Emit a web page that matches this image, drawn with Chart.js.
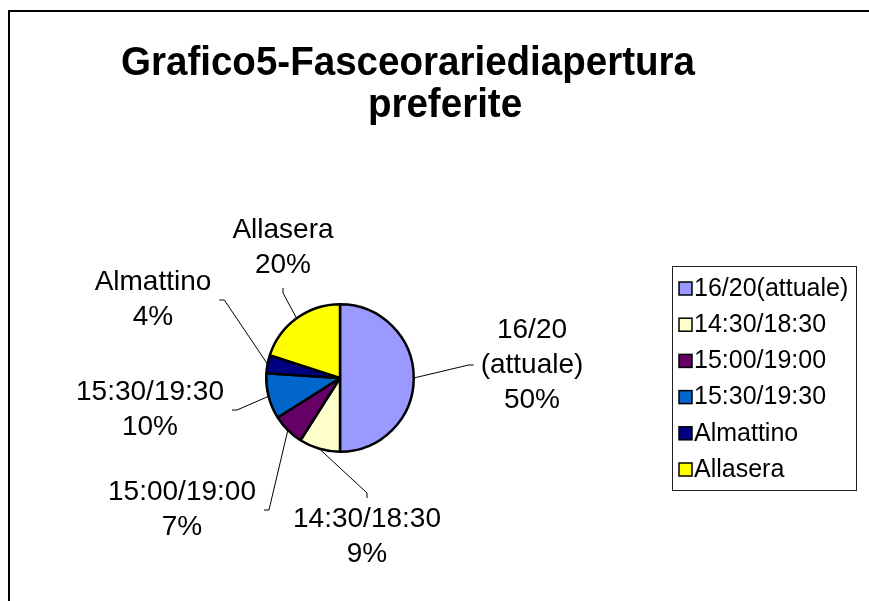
<!DOCTYPE html>
<html>
<head>
<meta charset="utf-8">
<script src="https://cdn.jsdelivr.net/npm/chart.js@4.4.0/dist/chart.umd.min.js"></script>
<style>
  html, body { margin: 0; padding: 0; background: #fff; }
  canvas { display: block; }
</style>
</head>
<body>
<canvas id="grafico" width="869" height="601"></canvas>
<script>
// --- dati ---
const categorie = ["16/20(attuale)", "14:30/18:30", "15:00/19:00", "15:30/19:30", "Almattino", "Allasera"];
const valori = [50, 9, 7, 10, 4, 20];
const colori = ["#9999FF", "#FFFFCC", "#660066", "#0066CC", "#000080", "#FFFF00"];
const titolo = ["Grafico5-Fasceorariediapertura", "preferite"];

// posizione etichette rispetto al centro della torta (dx, dy del blocco di testo)
const offsetEtichette = [[192, -13], [27, 159], [-158, 132], [-190, 32], [-187, -78], [-57, -130]];

const FONT = '"Liberation Sans", Arial, sans-serif';

function righeEtichetta(nome) {
  // "16/20(attuale)" va a capo prima della parentesi
  const i = nome.indexOf("(");
  return i > 0 ? [nome.slice(0, i), nome.slice(i)] : [nome];
}

function testoStretto(ctx, txt, x, y, sx) {
  ctx.save();
  ctx.translate(x, y);
  ctx.scale(sx, 1);
  ctx.fillText(txt, 0, 0);
  ctx.restore();
}

// cornice + titolo
const cornice = {
  id: "cornice",
  beforeDraw(chart) {
    const ctx = chart.ctx;
    ctx.save();
    ctx.fillStyle = "#fff";
    ctx.fillRect(0, 0, chart.width, chart.height);
    ctx.strokeStyle = "#000";
    ctx.lineWidth = 2;
    ctx.beginPath();
    ctx.moveTo(9, chart.height);
    ctx.lineTo(9, 11);
    ctx.lineTo(chart.width, 11);
    ctx.stroke();

    ctx.fillStyle = "#000";
    ctx.font = "bold 41px " + FONT;
    ctx.textAlign = "center";
    ctx.textBaseline = "alphabetic";
    testoStretto(ctx, titolo[0], 408, 75, 0.94);
    testoStretto(ctx, titolo[1], 445, 117, 0.94);
    ctx.restore();
  }
};

// etichette con linee guida
const etichette = {
  id: "etichette",
  afterDatasetsDraw(chart) {
    const ctx = chart.ctx;
    const meta = chart.getDatasetMeta(0);
    const totale = valori.reduce((a, b) => a + b, 0);
    const lineH = 35;
    ctx.save();
    ctx.font = "28px " + FONT;
    ctx.fillStyle = "#000";
    ctx.textAlign = "center";
    ctx.textBaseline = "middle";

    meta.data.forEach((arc, i) => {
      const p = arc.getProps(["x", "y", "startAngle", "endAngle", "outerRadius"], true);
      const mid = (p.startAngle + p.endAngle) / 2;
      const ax = p.x + Math.cos(mid) * p.outerRadius;
      const ay = p.y + Math.sin(mid) * p.outerRadius;

      const righe = righeEtichetta(categorie[i]).concat([Math.round(valori[i] / totale * 100) + "%"]);
      const w = Math.max(...righe.map(r => ctx.measureText(r).width));
      const h = righe.length * lineH;
      const cx = p.x + offsetEtichette[i][0];
      const cy = p.y + offsetEtichette[i][1];
      const left = cx - w / 2, right = cx + w / 2, top = cy - h / 2, bottom = cy + h / 2;

      // punto finale + piccolo gomito verso il testo
      let ex, ey, gx, gy;
      if (ax < left || ax > right) {
        ex = ax < left ? left - 7 : right + 8;
        ey = cy;
        gx = ax < left ? ex - 5 : ex + 5;
        gy = ey;
      } else {
        ex = cx;
        ey = ay < top ? top - 4 : bottom + 5;
        gx = ex;
        gy = ay < top ? ey - 5 : ey + 5;
      }
      ctx.strokeStyle = "#000";
      ctx.lineWidth = 1;
      ctx.beginPath();
      ctx.moveTo(ax, ay);
      ctx.lineTo(gx, gy);
      ctx.lineTo(ex, ey);
      ctx.stroke();

      righe.forEach((r, k) => {
        ctx.fillText(r, cx, top + lineH / 2 + k * lineH);
      });
    });
    ctx.restore();
  }
};

// legenda con riquadro
const legenda = {
  id: "legenda",
  afterDraw(chart) {
    const ctx = chart.ctx;
    const x0 = 672, y0 = 266, w = 184, h = 224, passo = 36.2;
    ctx.save();
    ctx.strokeStyle = "#222";
    ctx.lineWidth = 1;
    ctx.strokeRect(x0 + 0.5, y0 + 0.5, w, h);
    ctx.font = "25px " + FONT;
    ctx.textAlign = "left";
    ctx.textBaseline = "middle";
    categorie.forEach((nome, i) => {
      const y = y0 + 22 + i * passo;
      ctx.fillStyle = colori[i];
      ctx.fillRect(679, y - 6, 13, 13);
      ctx.strokeStyle = "#000";
      ctx.lineWidth = 1.5;
      ctx.strokeRect(679, y - 6, 13, 13);
      ctx.fillStyle = "#000";
      ctx.fillText(nome, 694, y + 1);
    });
    ctx.restore();
  }
};

new Chart(document.getElementById("grafico"), {
  type: "pie",
  data: {
    labels: categorie,
    datasets: [{
      data: valori,
      backgroundColor: colori,
      borderColor: "#000",
      borderWidth: 2.5
    }]
  },
  options: {
    responsive: false,
    animation: false,
    layout: { padding: { left: 265, right: 454, top: 303, bottom: 148 } },
    plugins: {
      legend: { display: false },
      title: { display: false },
      tooltip: { enabled: false }
    }
  },
  plugins: [cornice, etichette, legenda]
});
</script>
</body>
</html>
